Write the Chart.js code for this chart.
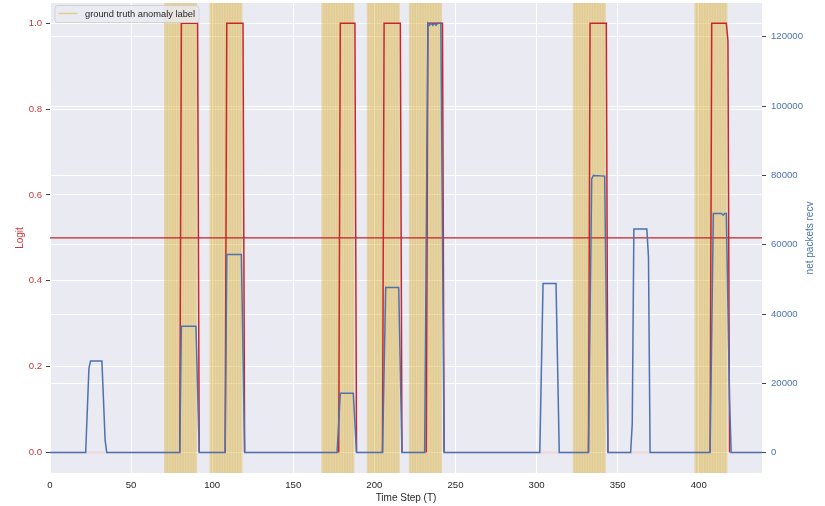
<!DOCTYPE html>
<html>
<head>
<meta charset="utf-8">
<script src="https://cdn.jsdelivr.net/npm/chart.js@4.4.1/dist/chart.umd.min.js"></script>
<style>
  html, body { margin: 0; padding: 0; background: #fff; }
</style>
</head>
<body>
<canvas id="myChart" width="825" height="506"></canvas>
<script>
// Data
// logit (left axis): vertices of the step-like prediction curve
const logitT = [0, 80, 81, 91, 92, 108, 109, 119, 120, 178, 179, 188, 189, 205, 206, 216, 217,
  232, 233, 242, 243, 332, 333, 343, 344, 407, 408, 417, 418, 419, 439];
const logitV = [0, 0, 1, 1, 0, 0, 1, 1, 0, 0, 1, 1, 0, 0, 1, 1, 0,
  0, 1, 1, 0, 0, 1, 1, 0, 0, 1, 1, 0.96, 0, 0];

// net packets recv (right axis): vertices of the blue curve
const packetsT = [0, 22, 24, 25, 32, 34, 35,
  80, 81, 90, 92,
  108, 109, 118, 120,
  177, 179, 187, 189,
  205, 207, 215, 217,
  231, 233, 234, 235, 236, 237, 238, 239, 241, 243,
  302, 304, 312, 314,
  332, 334, 335, 342, 344,
  358, 359, 360, 368, 369, 370,
  407, 409, 414, 415, 416, 417, 419, 420, 439];
const packetsV = [0, 0, 24300, 26400, 26400, 3500, 0,
  0, 36500, 36500, 0,
  0, 57200, 57200, 0,
  0, 17150, 17150, 0,
  0, 47650, 47650, 0,
  0, 123900, 123300, 123900, 123300, 123900, 123300, 123900, 123900, 0,
  0, 48800, 48800, 0,
  0, 79000, 80000, 79800, 0,
  0, 8300, 64500, 64500, 56500, 0,
  0, 69000, 69000, 68500, 69000, 69000, 15000, 0, 0];

// ground truth anomaly windows: first time step and length of each
const anomalyStart = [71, 99, 168, 196, 222, 323, 398];
const anomalyLen = [20, 20, 20, 20, 20, 20, 20];

const threshold = 0.5;

const xTicks = [0, 50, 100, 150, 200, 250, 300, 350, 400];
const logitTicks = [0, 0.2, 0.4, 0.6, 0.8, 1.0];
const packetTicks = [0, 20000, 40000, 60000, 80000, 100000, 120000];

// build datasets
const toPoints = (xs, ys) => xs.map((x, i) => ({ x: x, y: ys[i] }));

let anomalyPts = [];
anomalyStart.forEach((s, k) => {
  for (let t = s; t < s + anomalyLen[k]; t++) anomalyPts.push({ x: t, y: 1 });
});

const FONT = "'Liberation Sans', Arial, sans-serif";
const RED = "#c9262b";
const RED_TXT = "#c23b3e";
const BLUE = "#4c72b0";
const TXT = "#262626";

// plot background
const bgPlugin = {
  id: "bg",
  beforeDraw(chart) {
    const { ctx, chartArea: a } = chart;
    ctx.save();
    ctx.fillStyle = "#eaeaf2";
    ctx.fillRect(a.left, a.top, a.right - a.left, a.bottom - a.top);
    ctx.restore();
  },
};

// legend box inside the axes + right axis label (reads bottom to top)
const overlayPlugin = {
  id: "overlay",
  afterDraw(chart) {
    const { ctx, chartArea: a } = chart;
    ctx.save();
    // legend frame
    const x = 55, y = 5.5, w = 144, h = 17, r = 3;
    ctx.beginPath();
    ctx.moveTo(x + r, y);
    ctx.arcTo(x + w, y, x + w, y + h, r);
    ctx.arcTo(x + w, y + h, x, y + h, r);
    ctx.arcTo(x, y + h, x, y, r);
    ctx.arcTo(x, y, x + w, y, r);
    ctx.closePath();
    ctx.fillStyle = "rgba(234,234,242,0.8)";
    ctx.fill();
    ctx.strokeStyle = "#cccccc";
    ctx.lineWidth = 0.8;
    ctx.stroke();
    // swatch
    ctx.beginPath();
    ctx.moveTo(58.5, 13.5);
    ctx.lineTo(77.5, 13.5);
    ctx.strokeStyle = "rgba(222,180,60,0.55)";
    ctx.lineWidth = 1.5;
    ctx.stroke();
    ctx.fillStyle = TXT;
    ctx.font = "9.3px " + FONT;
    ctx.textBaseline = "middle";
    ctx.fillText("ground truth anomaly label", 85, 14);

    // right axis title
    ctx.translate(810, (a.top + a.bottom) / 2);
    ctx.rotate(-Math.PI / 2);
    ctx.textAlign = "center";
    ctx.textBaseline = "middle";
    ctx.fillStyle = BLUE;
    ctx.font = "10px " + FONT;
    ctx.fillText("net packets recv", 0, 0);
    ctx.restore();
  },
};

const chartdata = document.getElementById("myChart");

var myChart = new Chart(chartdata, {
  type: "line",
  data: {
    datasets: [
      {
        label: "net packets recv",
        data: toPoints(packetsT, packetsV),
        yAxisID: "y2",
        borderColor: BLUE,
        borderWidth: 1.5,
        pointRadius: 0,
        tension: 0,
        order: 0,
      },
      {
        label: "logit",
        data: toPoints(logitT, logitV),
        yAxisID: "y",
        borderColor: RED,
        borderWidth: 1.5,
        pointRadius: 0,
        tension: 0,
        order: 1,
        segment: {
          borderColor: (c) =>
            c.p0.parsed.y === 0 && c.p1.parsed.y === 0 ? "rgba(214,39,40,0.18)" : undefined,
        },
      },
      {
        label: "threshold",
        data: [{ x: 0, y: threshold }, { x: 439, y: threshold }],
        yAxisID: "y",
        borderColor: "#c0232b",
        borderWidth: 1.2,
        pointRadius: 0,
        order: 2,
      },
      {
        type: "bar",
        label: "ground truth anomaly label",
        data: anomalyPts,
        yAxisID: "yGT",
        backgroundColor: "rgba(222,180,60,0.38)",
        borderWidth: 0,
        barPercentage: 1,
        categoryPercentage: 1,
        order: 3,
      },
    ],
  },
  options: {
    responsive: false,
    animation: false,
    devicePixelRatio: 1,
    layout: { padding: { top: 3, left: 0, right: 0, bottom: 0 } },
    plugins: {
      legend: { display: false },
      tooltip: { enabled: false },
    },
    scales: {
      x: {
        type: "linear",
        min: 0,
        max: 439,
        offset: false,
        afterBuildTicks: (s) => { s.ticks = xTicks.map((v) => ({ value: v })); },
        afterFit: (s) => { s.height = 33; s.paddingLeft = 0; s.paddingRight = 0; },
        grid: { color: "#ffffff", lineWidth: 1, drawTicks: false, offset: false },
        border: { display: false },
        ticks: { color: TXT, font: { family: FONT, size: 9.6 }, padding: 7, maxRotation: 0 },
        title: {
          display: true,
          text: "Time Step (T)",
          color: TXT,
          font: { family: FONT, size: 10 },
          padding: { top: 0, bottom: 2 },
        },
      },
      y: {
        position: "left",
        min: -0.048,
        max: 1.047,
        afterBuildTicks: (s) => { s.ticks = logitTicks.map((v) => ({ value: v })); },
        afterFit: (s) => { s.width = 50; s.paddingTop = 0; s.paddingBottom = 0; },
        grid: { color: "#ffffff", lineWidth: 1, tickColor: "#444", tickLength: 4 },
        border: { display: false },
        ticks: {
          color: RED_TXT,
          font: { family: FONT, size: 9.6 },
          padding: 4,
          callback: (v) => v.toFixed(1),
        },
        title: {
          display: true,
          text: "Logit",
          color: RED_TXT,
          font: { family: FONT, size: 10 },
          padding: { top: 14.5, bottom: 0 },
        },
      },
      y2: {
        position: "right",
        min: -5890,
        max: 129760,
        afterBuildTicks: (s) => { s.ticks = packetTicks.map((v) => ({ value: v })); },
        afterFit: (s) => { s.width = 63; s.paddingTop = 0; s.paddingBottom = 0; },
        grid: { color: "#ffffff", lineWidth: 1, tickColor: "#444", tickLength: 4 },
        border: { display: false },
        ticks: {
          color: BLUE,
          font: { family: FONT, size: 9.6 },
          padding: 5,
          callback: (v) => String(v),
        },
      },
      yGT: { display: false, min: 0, max: 1 },
    },
  },
  plugins: [bgPlugin, overlayPlugin],
});
</script>
</body>
</html>
